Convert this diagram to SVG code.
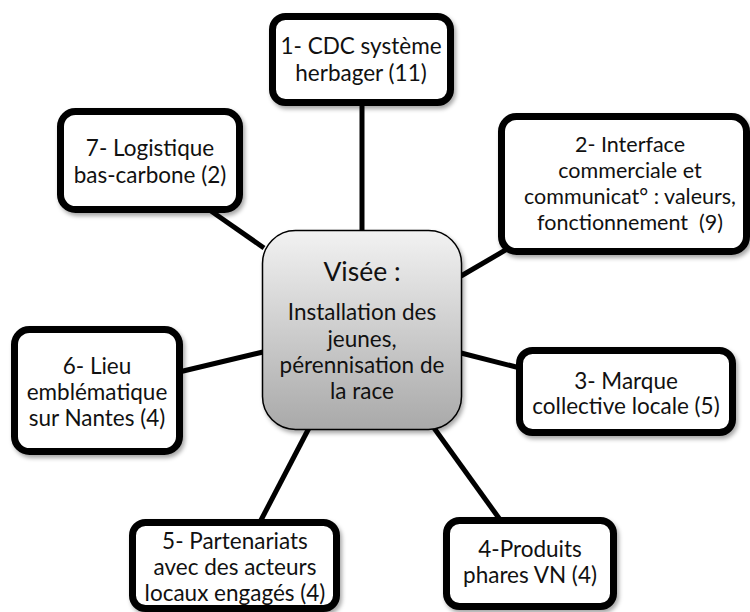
<svg xmlns="http://www.w3.org/2000/svg" width="750" height="612" viewBox="0 0 750 612">
<defs>
<linearGradient id="cg" x1="0" y1="0" x2="0" y2="1">
<stop offset="0" stop-color="#f2f2f2"/>
<stop offset="1" stop-color="#a9a9a9"/>
</linearGradient>
<filter id="sh" x="-10%" y="-10%" width="125%" height="130%">
<feDropShadow dx="2" dy="3" stdDeviation="2" flood-color="#000" flood-opacity="0.35"/>
</filter>
<style>
.box{fill:#fff;stroke:#000;stroke-width:7;filter:url(#sh)}
.ctr{fill:url(#cg);stroke:#000;stroke-width:1.5;filter:url(#sh)}
.t{font-family:Lato,"Liberation Sans",sans-serif;font-size:22.5px;fill:#111;text-anchor:middle}
.s{font-size:21.5px}
.big{font-size:26.5px}
.c{stroke:#000;stroke-width:5;fill:none}
</style>
</defs>
<g id="connectors">
<line class="c" x1="362" y1="104" x2="362" y2="231"/>
<line class="c" x1="211" y1="211" x2="264" y2="248"/>
<line class="c" x1="461" y1="276" x2="509" y2="248"/>
<line class="c" x1="461" y1="353" x2="520" y2="368"/>
<line class="c" x1="179" y1="372" x2="263" y2="352"/>
<line class="c" x1="309" y1="428" x2="260" y2="522"/>
<line class="c" x1="434" y1="428" x2="501" y2="521"/>
</g>
<g id="center">
<rect class="ctr" x="262.5" y="230.5" width="199" height="199" rx="33"/>
<text class="t big" x="362" y="281">Visée :</text>
<text class="t" x="362" y="320">Installation des</text>
<text class="t" x="362" y="347">jeunes,</text>
<text class="t" x="362" y="373">pérennisation de</text>
<text class="t" x="362" y="399">la race</text>
</g>
<g id="n1">
<rect class="box" x="272.5" y="16.5" width="178" height="86" rx="13"/>
<text class="t" x="361" y="54">1- CDC système</text>
<text class="t" x="361" y="81">herbager (11)</text>
</g>
<g id="n2">
<rect class="box" x="501.5" y="116.5" width="245" height="135" rx="15"/>
<text class="t s" x="630" y="152">2- Interface</text>
<text class="t s" x="630" y="178">commerciale et</text>
<text class="t s" x="630" y="204">communicat° : valeurs,</text>
<text class="t s" x="630" y="230" xml:space="preserve">fonctionnement  (9)</text>
</g>
<g id="n3">
<rect class="box" x="519.5" y="350.5" width="213" height="82" rx="13"/>
<text class="t" x="626" y="389">3- Marque</text>
<text class="t" x="626" y="414">collective locale (5)</text>
</g>
<g id="n4">
<rect class="box" x="446.5" y="520.5" width="167" height="86" rx="13"/>
<text class="t" x="530" y="557">4-Produits</text>
<text class="t" x="530" y="583">phares VN (4)</text>
</g>
<g id="n5">
<rect class="box" x="132.5" y="522.5" width="204" height="86" rx="13"/>
<text class="t" x="235" y="549">5- Partenariats</text>
<text class="t" x="235" y="575">avec des acteurs</text>
<text class="t" x="235" y="601">locaux engagés (4)</text>
</g>
<g id="n6">
<rect class="box" x="14.5" y="329.5" width="165" height="122" rx="15"/>
<text class="t" x="97" y="374">6- Lieu</text>
<text class="t" x="97" y="400">emblématique</text>
<text class="t" x="97" y="426">sur Nantes (4)</text>
</g>
<g id="n7">
<rect class="box" x="60.5" y="111.5" width="179" height="98" rx="15"/>
<text class="t" x="150" y="156">7- Logistique</text>
<text class="t" x="150" y="183">bas-carbone (2)</text>
</g>
</svg>
